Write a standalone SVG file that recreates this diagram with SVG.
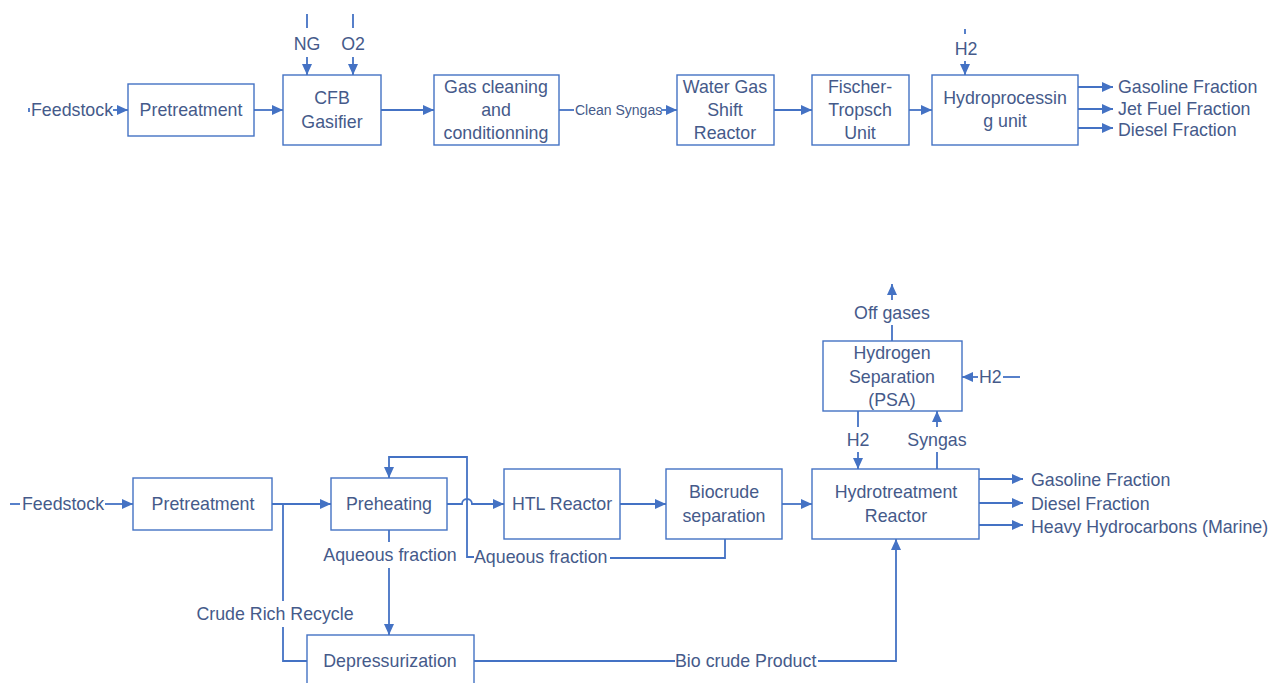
<svg xmlns="http://www.w3.org/2000/svg" width="1273" height="683" viewBox="0 0 1273 683">
  <style>
    .box { fill: #fff; stroke: #4472C4; stroke-width: 1.4; }
    .ln { fill: none; stroke: #4472C4; stroke-width: 1.8; }
    .arr { fill: none; stroke: #4472C4; stroke-width: 1.8; marker-end: url(#head); }
    text { font-family: "Liberation Sans", Arial, sans-serif; font-size: 17.8px; fill: #455A8A; dominant-baseline: central; }
    .c { text-anchor: middle; }
    .sm { font-size: 14px; }
  </style>
  <defs>
    <marker id="head" markerUnits="userSpaceOnUse" markerWidth="11" markerHeight="10" refX="11" refY="5" orient="auto">
      <path d="M0,0 L11,5 L0,10 z" fill="#4472C4"/>
    </marker>
  </defs>

  <rect width="1273" height="683" fill="#fff"/>

  <!-- connectors -->
  <g id="connectors">
    <!-- gasification / FT line -->
    <path class="ln" d="M29,108 V112"/>
    <path class="arr" d="M113,110 H128"/>
    <path class="arr" d="M254,110 H283"/>
    <path class="ln" d="M307,14 V28"/>
    <path class="arr" d="M307,57 V75"/>
    <path class="ln" d="M353,14 V28"/>
    <path class="arr" d="M353,57 V75"/>
    <path class="arr" d="M381,110 H434"/>
    <path class="ln" d="M559,110 H574"/>
    <path class="arr" d="M661,110 H677"/>
    <path class="arr" d="M774,110 H812"/>
    <path class="arr" d="M909,110 H932"/>
    <path class="ln" d="M965,29 V34"/>
    <path class="arr" d="M965,61 V75"/>
    <path class="arr" d="M1078,87 H1113"/>
    <path class="arr" d="M1078,109 H1113"/>
    <path class="arr" d="M1078,128 H1113"/>

    <!-- HTL line -->
    <path class="ln" d="M10,504 H20"/>
    <path class="arr" d="M105,504 H133"/>
    <path class="arr" d="M272,504 H331"/>
    <path class="ln" d="M283,504 V601"/>
    <path class="ln" d="M283,627 V661 H307"/>
    <path class="ln" d="M389,530 V542"/>
    <path class="arr" d="M389,568 V635"/>
    <path class="arr" d="M447,504 H462 A5,5 0 0 1 472,504 H504"/>
    <path class="arr" d="M474,557 H467 V457 H389 V478"/>
    <path class="ln" d="M725,539 V558 H610"/>
    <path class="arr" d="M620,504 H666"/>
    <path class="arr" d="M782,504 H812"/>
    <path class="ln" d="M474,661 H675"/>
    <path class="arr" d="M818,661 H896 V539"/>
    <path class="arr" d="M979,479 H1023"/>
    <path class="arr" d="M979,503 H1023"/>
    <path class="arr" d="M979,525 H1023"/>
    <!-- hydrogen loop -->
    <path class="ln" d="M892,341 V325"/>
    <path class="arr" d="M892,300 V284"/>
    <path class="ln" d="M1020,377 H1003"/>
    <path class="arr" d="M978,377 H962"/>
    <path class="ln" d="M858,411 V427"/>
    <path class="arr" d="M858,452 V469"/>
    <path class="ln" d="M937,469 V452"/>
    <path class="arr" d="M937,427 V411"/>
  </g>

  <!-- stream labels -->
  <g id="labels">
    <text x="31" y="110">Feedstock</text>
    <text class="c" x="307" y="44">NG</text>
    <text class="c" x="353" y="44">O2</text>
    <text class="sm" x="575" y="110">Clean Syngas</text>
    <text class="c" x="966" y="49">H2</text>
    <text x="1118" y="87">Gasoline Fraction</text>
    <text x="1118" y="109">Jet Fuel Fraction</text>
    <text x="1118" y="130">Diesel Fraction</text>

    <text x="22" y="504">Feedstock</text>
    <text class="c" x="390" y="555">Aqueous fraction</text>
    <text class="c" x="275" y="614">Crude Rich Recycle</text>
    <text x="474" y="557">Aqueous fraction</text>
    <text x="675" y="661">Bio crude Product</text>
    <text class="c" x="892" y="313">Off gases</text>
    <text x="979" y="377">H2</text>
    <text class="c" x="858" y="440">H2</text>
    <text class="c" x="937" y="440">Syngas</text>
    <text x="1031" y="480">Gasoline Fraction</text>
    <text x="1031" y="504">Diesel Fraction</text>
    <text x="1031" y="527">Heavy Hydrocarbons (Marine)</text>
  </g>

  <!-- gasification / Fischer-Tropsch route -->
  <g id="pretreatment-1">
    <rect class="box" x="128" y="84" width="126" height="52"/>
    <text class="c" x="191" y="110">Pretreatment</text>
  </g>
  <g id="cfb-gasifier">
    <rect class="box" x="283" y="75" width="98" height="70"/>
    <text class="c" x="332" y="98">CFB</text>
    <text class="c" x="332" y="122">Gasifier</text>
  </g>
  <g id="gas-cleaning">
    <rect class="box" x="434" y="75" width="125" height="70"/>
    <text class="c" x="496" y="87">Gas cleaning</text>
    <text class="c" x="496" y="110">and</text>
    <text class="c" x="496" y="133">conditionning</text>
  </g>
  <g id="water-gas-shift">
    <rect class="box" x="677" y="75" width="97" height="70"/>
    <text class="c" x="725" y="87">Water Gas</text>
    <text class="c" x="725" y="110">Shift</text>
    <text class="c" x="725" y="133">Reactor</text>
  </g>
  <g id="fischer-tropsch">
    <rect class="box" x="812" y="75" width="97" height="70"/>
    <text class="c" x="860" y="87">Fischer-</text>
    <text class="c" x="860" y="110">Tropsch</text>
    <text class="c" x="860" y="133">Unit</text>
  </g>
  <g id="hydroprocessing">
    <rect class="box" x="932" y="75" width="146" height="70"/>
    <text class="c" x="1005" y="98">Hydroprocessin</text>
    <text class="c" x="1005" y="121">g unit</text>
  </g>

  <!-- hydrothermal liquefaction route -->
  <g id="pretreatment-2">
    <rect class="box" x="133" y="478" width="139" height="52"/>
    <text class="c" x="203" y="504">Pretreatment</text>
  </g>
  <g id="preheating">
    <rect class="box" x="331" y="478" width="116" height="52"/>
    <text class="c" x="389" y="504">Preheating</text>
  </g>
  <g id="htl-reactor">
    <rect class="box" x="504" y="469" width="116" height="70"/>
    <text class="c" x="562" y="504">HTL Reactor</text>
  </g>
  <g id="biocrude-separation">
    <rect class="box" x="666" y="469" width="116" height="70"/>
    <text class="c" x="724" y="492">Biocrude</text>
    <text class="c" x="724" y="516">separation</text>
  </g>
  <g id="hydrotreatment">
    <rect class="box" x="812" y="469" width="167" height="70"/>
    <text class="c" x="896" y="492">Hydrotreatment</text>
    <text class="c" x="896" y="516">Reactor</text>
  </g>
  <g id="hydrogen-separation">
    <rect class="box" x="823" y="341" width="139" height="70"/>
    <text class="c" x="892" y="353">Hydrogen</text>
    <text class="c" x="892" y="377">Separation</text>
    <text class="c" x="892" y="400">(PSA)</text>
  </g>
  <g id="depressurization">
    <rect class="box" x="307" y="635" width="167" height="60"/>
    <text class="c" x="390" y="661">Depressurization</text>
  </g>
</svg>
